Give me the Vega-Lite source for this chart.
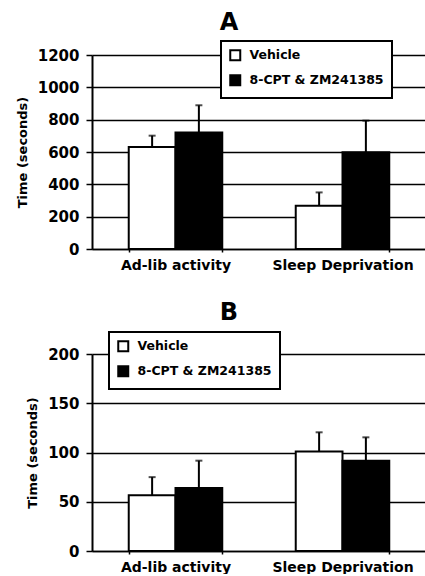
{
  "$schema": "https://vega.github.io/schema/vega-lite/v6.json",
  "background": "white",
  "padding": {"left": 16, "top": 11, "right": 0, "bottom": 0},
  "config": {
    "font": "DejaVu Sans",
    "view": {"stroke": null},
    "axis": {
      "labelFont": "DejaVu Sans", "labelFontWeight": "bold", "labelFontSize": 15, "labelColor": "black",
      "titleFont": "DejaVu Sans", "titleFontWeight": "bold", "titleFontSize": 13, "titleColor": "black",
      "domainColor": "black", "domainWidth": 2, "tickColor": "black", "tickWidth": 1.5, "tickSize": 6,
      "gridColor": "black", "gridWidth": 1.3, "gridOpacity": 1
    },
    "legend": {"strokeWidth": 2},
    "title": {"font": "DejaVu Sans", "fontSize": 24, "fontWeight": "bold", "color": "black"}
  },
  "datasets": {
    "A": [
      {"condition": "Ad-lib activity", "treatment": "Vehicle", "mean": 631, "upper": 701},
      {"condition": "Ad-lib activity", "treatment": "8-CPT & ZM241385", "mean": 720, "upper": 889},
      {"condition": "Sleep Deprivation", "treatment": "Vehicle", "mean": 268, "upper": 350},
      {"condition": "Sleep Deprivation", "treatment": "8-CPT & ZM241385", "mean": 598, "upper": 794}
    ],
    "B": [
      {"condition": "Ad-lib activity", "treatment": "Vehicle", "mean": 56.5, "upper": 75},
      {"condition": "Ad-lib activity", "treatment": "8-CPT & ZM241385", "mean": 64, "upper": 91.7},
      {"condition": "Sleep Deprivation", "treatment": "Vehicle", "mean": 101, "upper": 120.5},
      {"condition": "Sleep Deprivation", "treatment": "8-CPT & ZM241385", "mean": 91.7, "upper": 115.4}
    ]
  },
  "spacing": 29,
  "resolve": {"scale": {"fill": "independent"}, "legend": {"fill": "independent"}},
  "vconcat": [
    {
      "title": {"text": "A", "dx": -30, "offset": 5},
      "width": 334, "height": 194,
      "data": {"name": "A"},
      "encoding": {
        "x": {"field": "condition", "type": "nominal", "sort": ["Ad-lib activity", "Sleep Deprivation"],
          "scale": {"paddingInner": 0.44, "paddingOuter": 0.22},
          "axis": {"title": null, "labelAngle": 0, "tickBand": "extent", "labelPadding": 6, "tickSize": 3, "domainWidth": 1.5,
            "labelFont": "DejaVu Sans", "labelFontWeight": "bold", "labelFontSize": 14, "labelColor": "black"}},
        "xOffset": {"field": "treatment", "type": "nominal", "sort": ["Vehicle", "8-CPT & ZM241385"], "scale": {"paddingInner": 0, "paddingOuter": 0}}
      },
      "layer": [
        {
          "mark": {"type": "bar", "stroke": "black", "strokeWidth": 2},
          "encoding": {
            "y": {"field": "mean", "type": "quantitative", "scale": {"domain": [0, 1200]},
              "axis": {"values": [0, 200, 400, 600, 800, 1000, 1200], "tickCount": 10, "format": "d", "labelOverlap": false, "title": "Time (seconds)", "grid": true, "titlePadding": 8, "labelPadding": 7,
                "labelFont": "DejaVu Sans", "labelFontWeight": "bold", "labelFontSize": 15, "labelColor": "black",
                "titleFont": "DejaVu Sans", "titleFontWeight": "bold", "titleFontSize": 13, "titleColor": "black"}},
            "fill": {"field": "treatment", "type": "nominal",
              "scale": {"domain": ["Vehicle", "8-CPT & ZM241385"], "range": ["white", "black"]},
              "legend": {"orient": "none", "legendX": 129, "legendY": -14, "title": null, "direction": "vertical",
                "symbolType": "square", "symbolSize": 100, "symbolStrokeColor": "black", "symbolStrokeWidth": 2,
                "labelFont": "DejaVu Sans", "labelFontSize": 12.5, "labelFontWeight": "bold", "labelColor": "black",
                "padding": 8, "rowPadding": 6, "labelOffset": 8, "labelLimit": 300, "strokeColor": "black", "fillColor": "white"}}
          }
        },
        {
          "mark": {"type": "rule", "strokeWidth": 2, "color": "black"},
          "encoding": {"y": {"field": "mean", "type": "quantitative"}, "y2": {"field": "upper"}}
        },
        {
          "mark": {"type": "tick", "color": "black", "thickness": 2, "size": 7},
          "encoding": {"y": {"field": "upper", "type": "quantitative"}}
        }
      ]
    },
    {
      "title": {"text": "B", "dx": -30, "offset": 6},
      "width": 334, "height": 197,
      "data": {"name": "B"},
      "encoding": {
        "x": {"field": "condition", "type": "nominal", "sort": ["Ad-lib activity", "Sleep Deprivation"],
          "scale": {"paddingInner": 0.44, "paddingOuter": 0.22},
          "axis": {"title": null, "labelAngle": 0, "tickBand": "extent", "labelPadding": 6, "tickSize": 3, "domainWidth": 1.5,
            "labelFont": "DejaVu Sans", "labelFontWeight": "bold", "labelFontSize": 14, "labelColor": "black"}},
        "xOffset": {"field": "treatment", "type": "nominal", "sort": ["Vehicle", "8-CPT & ZM241385"], "scale": {"paddingInner": 0, "paddingOuter": 0}}
      },
      "layer": [
        {
          "mark": {"type": "bar", "stroke": "black", "strokeWidth": 2},
          "encoding": {
            "y": {"field": "mean", "type": "quantitative", "scale": {"domain": [0, 200]},
              "axis": {"values": [0, 50, 100, 150, 200], "tickCount": 10, "format": "d", "labelOverlap": false, "title": "Time (seconds)", "grid": true, "titlePadding": 8, "labelPadding": 7,
                "labelFont": "DejaVu Sans", "labelFontWeight": "bold", "labelFontSize": 15, "labelColor": "black",
                "titleFont": "DejaVu Sans", "titleFontWeight": "bold", "titleFontSize": 13, "titleColor": "black"}},
            "fill": {"field": "treatment", "type": "nominal",
              "scale": {"domain": ["Vehicle", "8-CPT & ZM241385"], "range": ["white", "black"]},
              "legend": {"orient": "none", "legendX": 17, "legendY": -22, "title": null, "direction": "vertical",
                "symbolType": "square", "symbolSize": 100, "symbolStrokeColor": "black", "symbolStrokeWidth": 2,
                "labelFont": "DejaVu Sans", "labelFontSize": 12.5, "labelFontWeight": "bold", "labelColor": "black",
                "padding": 8, "rowPadding": 6, "labelOffset": 8, "labelLimit": 300, "strokeColor": "black", "fillColor": "white"}}
          }
        },
        {
          "mark": {"type": "rule", "strokeWidth": 2, "color": "black"},
          "encoding": {"y": {"field": "mean", "type": "quantitative"}, "y2": {"field": "upper"}}
        },
        {
          "mark": {"type": "tick", "color": "black", "thickness": 2, "size": 7},
          "encoding": {"y": {"field": "upper", "type": "quantitative"}}
        }
      ]
    }
  ]
}
